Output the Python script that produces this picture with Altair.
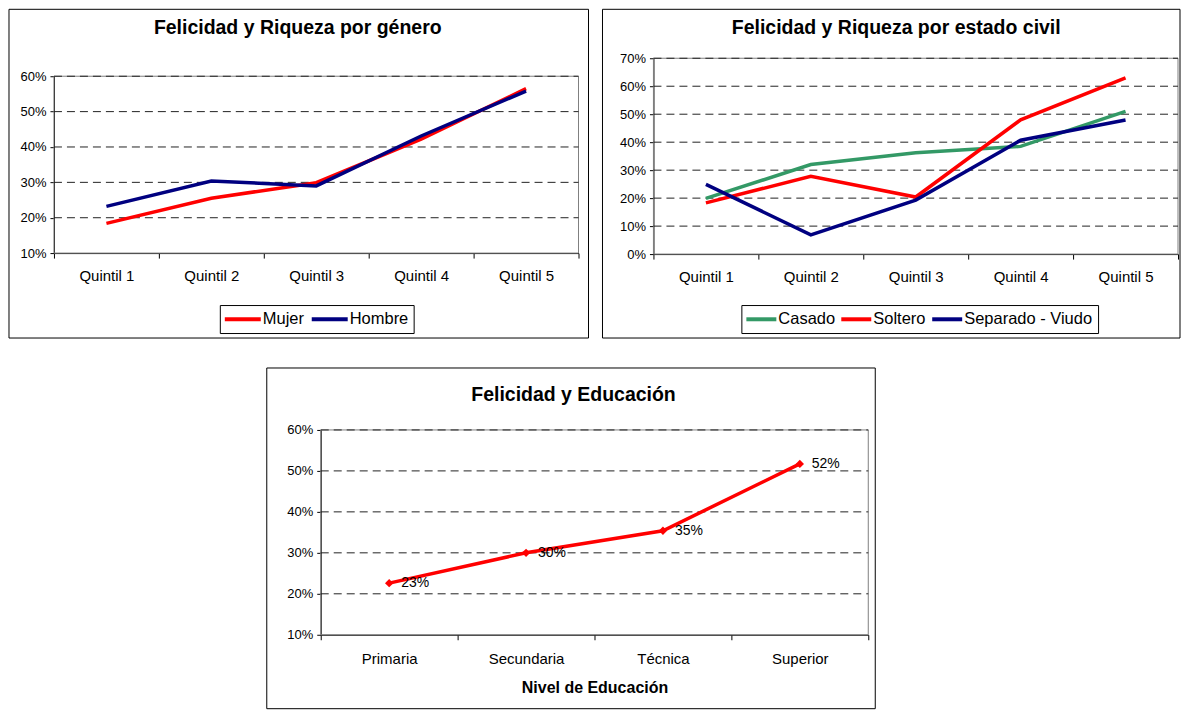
import altair as alt
import pandas as pd

FONT = "Liberation Sans"

# ---------- data ----------
quintiles = ["Quintil 1", "Quintil 2", "Quintil 3", "Quintil 4", "Quintil 5"]
mujer = [0.184, 0.255, 0.299, 0.422, 0.565]
hombre = [0.232, 0.304, 0.290, 0.431, 0.558]

casado = [0.199, 0.320, 0.362, 0.385, 0.510]
soltero = [0.183, 0.278, 0.204, 0.480, 0.630]
separado = [0.249, 0.069, 0.193, 0.407, 0.479]

niveles = ["Primaria", "Secundaria", "Técnica", "Superior"]
educacion = [0.226, 0.300, 0.354, 0.517]

ticks_1 = [0.1, 0.2, 0.3, 0.4, 0.5, 0.6]
ticks_2 = [0.0, 0.1, 0.2, 0.3, 0.4, 0.5, 0.6, 0.7]
ticks_3 = [0.1, 0.2, 0.3, 0.4, 0.5, 0.6]

gen_series = ["Mujer", "Hombre"]
gen_colors = ["#FF0000", "#000080"]
civ_series = ["Casado", "Soltero", "Separado - Viudo"]
civ_colors = ["#339966", "#FF0000", "#000080"]

df1 = pd.DataFrame({"q1": quintiles * 2, "v1": mujer + hombre,
                    "s1": ["Mujer"] * 5 + ["Hombre"] * 5})
df2 = pd.DataFrame({"q2": quintiles * 3, "v2": casado + soltero + separado,
                    "s2": ["Casado"] * 5 + ["Soltero"] * 5 + ["Separado - Viudo"] * 5})
df3 = pd.DataFrame({"n3": niveles, "v3": educacion})
one = pd.DataFrame({"a": [0]})

# ---------- canvas layout (pixels inside the view) ----------
W, H = 1173, 701
# panel plot areas: (left, right, top, bottom)
A1 = (45, 570, 67, 244)
A2 = (645, 1170, 49, 245)
A3 = (312, 860, 421, 626)


def xscale(domain, a):
    return alt.Scale(type="band", domain=domain, range=[a[0], a[1]],
                     paddingInner=0, paddingOuter=0)


def yscale(dom, a):
    return alt.Scale(domain=dom, range=[a[3], a[2]], nice=False, zero=False)


def yaxis(values, a):
    return alt.Axis(format=".0%", values=values, title=None, orient="left",
                    offset=-a[0], labelFontSize=13, labelColor="black",
                    domainColor="black", tickColor="black", tickSize=4,
                    labelPadding=4, grid=False)


def xaxis(a, pad, title=None, **kw):
    return alt.Axis(title=title, orient="bottom", offset=-(H - a[3]), labelAngle=0,
                    labelFontSize=15, labelColor="black", domainColor="black",
                    tickColor="black", tickSize=5, labelPadding=pad,
                    tickBand="extent", grid=False, **kw)


def rect(x1, x2, y1, y2, color="black"):
    return alt.Chart(one).mark_rect(fill="white", fillOpacity=0, stroke=color,
                                    strokeWidth=1).encode(
        x=alt.value(x1), x2=alt.value(x2), y=alt.value(y1), y2=alt.value(y2))


def title(text, x, y):
    return alt.Chart(one).mark_text(font=FONT, fontSize=19.5, fontWeight="bold",
                                    align="center", baseline="middle",
                                    color="black").encode(
        x=alt.value(x), y=alt.value(y), text=alt.value(text))


def grid(values, dom, a):
    g = pd.DataFrame({"g": values})
    return alt.Chart(g).mark_rule(color="#222222", strokeDash=[8, 5], strokeWidth=1).encode(
        y=alt.Y("g:Q", scale=yscale(dom, a), axis=None),
        x=alt.value(a[0]), x2=alt.value(a[1]))


def legend(x, y, n, path, loff, colpad):
    return alt.Legend(orient="none", legendX=x, legendY=y, direction="horizontal",
                      columns=n, title=None, symbolType=path, symbolSize=196,
                      symbolStrokeWidth=4, labelFontSize=16.5, labelColor="black",
                      strokeColor="black", padding=5, labelOffset=loff,
                      columnPadding=colpad, cornerRadius=0)


# ---------- panel 1 ----------
lines1 = alt.Chart(df1).mark_line(strokeWidth=3.5).encode(
    x=alt.X("q1:N", scale=xscale(quintiles, A1), axis=xaxis(A1, 10), bandPosition=0.5),
    y=alt.Y("v1:Q", scale=yscale([0.1, 0.6], A1), axis=yaxis(ticks_1, A1)),
    color=alt.Color("s1:N", scale=alt.Scale(domain=gen_series, range=gen_colors),
                    legend=legend(211, 296, 2, "M-1.286,0H3.857", 20, -2)),
)

# ---------- panel 2 ----------
lines2 = alt.Chart(df2).mark_line(strokeWidth=3.5).encode(
    x=alt.X("q2:N", scale=xscale(quintiles, A2), axis=xaxis(A2, 10), bandPosition=0.5),
    y=alt.Y("v2:Q", scale=yscale([0.0, 0.7], A2), axis=yaxis(ticks_2, A2)),
    color=alt.Color("s2:N", scale=alt.Scale(domain=civ_series, range=civ_colors),
                    legend=legend(733, 296, 3, "M-1.286,0H3", 14, -3)),
)

# ---------- panel 3 ----------
x3 = alt.X("n3:N", scale=xscale(niveles, A3),
           axis=xaxis(A3, 12, title="Nivel de Educación", titleFontSize=16,
                      titleFont=FONT, titleFontWeight="bold", titleColor="black",
                      titleY=53, titleBaseline="middle"),
           bandPosition=0.5)
x3n = alt.X("n3:N", scale=xscale(niveles, A3), axis=None, bandPosition=0.5)
y3 = alt.Y("v3:Q", scale=yscale([0.1, 0.6], A3), axis=yaxis(ticks_3, A3))
y3n = alt.Y("v3:Q", scale=yscale([0.1, 0.6], A3), axis=None)
line3 = alt.Chart(df3).mark_line(color="#FF0000", strokeWidth=3.5).encode(x=x3, y=y3)
pts3 = alt.Chart(df3).mark_point(shape="diamond", filled=True, size=70, color="#FF0000",
                                 opacity=1).encode(x=x3n, y=y3n)
lab3 = alt.Chart(df3).mark_text(align="left", baseline="middle", dx=12, fontSize=14,
                                font=FONT, color="black").encode(
    x=x3n, y=y3n, text=alt.Text("v3:Q", format=".0%"))

chart = alt.layer(
    # outer panel frames
    rect(0, 580, 0, 329), rect(594, 1172, 0, 329), rect(258, 867, 359, 700),
    # plot area frames
    rect(A1[0], A1[1], A1[2], A1[3], "#808080"),
    rect(A2[0], A2[1], A2[2], A2[3], "#808080"),
    rect(A3[0], A3[1], A3[2], A3[3], "#808080"),
    # titles
    title("Felicidad y Riqueza por género", 289, 19),
    title("Felicidad y Riqueza por estado civil", 888, 19),
    title("Felicidad y Educación", 565, 386),
    # gridlines
    grid(ticks_1[1:], [0.1, 0.6], A1),
    grid(ticks_2[1:], [0.0, 0.7], A2),
    grid(ticks_3[1:], [0.1, 0.6], A3),
    # data
    lines1, lines2, line3, pts3, lab3,
).resolve_scale(
    x="independent", y="independent", color="independent"
).resolve_axis(x="independent", y="independent").resolve_legend(
    color="independent"
).properties(width=W, height=H, padding=0).configure(font=FONT).configure_view(
    stroke=None
)

chart.save("out.html", embed_options={"renderer": "svg", "actions": False})
